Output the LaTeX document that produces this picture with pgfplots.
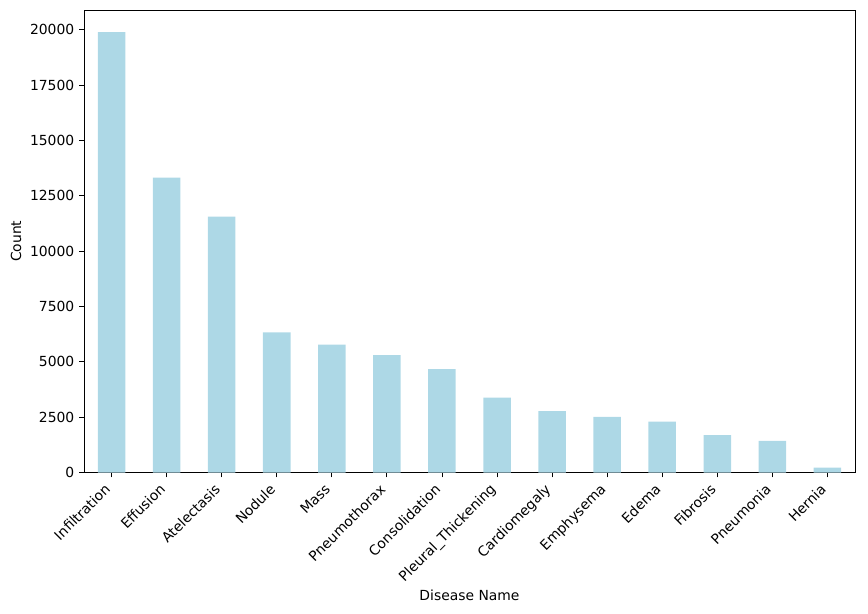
\documentclass[border=0pt]{standalone}
\usepackage{pgfplots}
\pgfplotsset{compat=1.18}
\usepackage{fontspec}
\setmainfont{DejaVu Sans}
\definecolor{lb}{HTML}{ADD8E6}
\begin{document}
\begin{tikzpicture}[font=\fontsize{10}{12}\selectfont]
\begin{axis}[
  scale only axis, width=555pt, height=333pt,
  xmin=-0.5, xmax=13.5, ymin=0, ymax=20889,
  xtick={0,...,13},
  xticklabels={Infiltration,Effusion,Atelectasis,Nodule,Mass,Pneumothorax,Consolidation,Pleural\_Thickening,Cardiomegaly,Emphysema,Edema,Fibrosis,Pneumonia,Hernia},
  xticklabel style={xshift=-5.8pt, yshift=-2.2pt, rotate=45, anchor=north east, inner sep=1pt},
  ytick={0,2500,...,20000},
  yticklabel style={/pgf/number format/.cd, fixed, 1000 sep={}},
  /pgf/number format/assume math mode=true,
  scaled y ticks=false,
  tick align=outside, tick pos=left,
  major tick length=3.5pt,
  xlabel={Disease Name}, ylabel={Count},
  xlabel style={at={(rel axis cs:0.5,0)}, anchor=center, yshift=-88.6pt},
  ylabel style={at={(rel axis cs:0,0.5)}, anchor=center, yshift=49pt},
  ybar, bar width=0.5, bar shift=0pt,
  axis line style={line width=0.6pt},
  every tick/.style={black, line width=0.6pt},
]
\addplot[fill=lb, draw=none] coordinates {
(0,19894) (1,13317) (2,11559) (3,6331) (4,5782) (5,5302) (6,4667)
(7,3385) (8,2776) (9,2516) (10,2303) (11,1686) (12,1431) (13,227)};
\path (rel axis cs:0,0) ++(-60.5pt,-101.5pt) coordinate (ll);
\path (rel axis cs:1,1) ++(9.4pt,7.2pt) coordinate (ur);
\end{axis}
\pgfresetboundingbox
\path[use as bounding box] (ll) rectangle (ur);
\end{tikzpicture}
\end{document}
